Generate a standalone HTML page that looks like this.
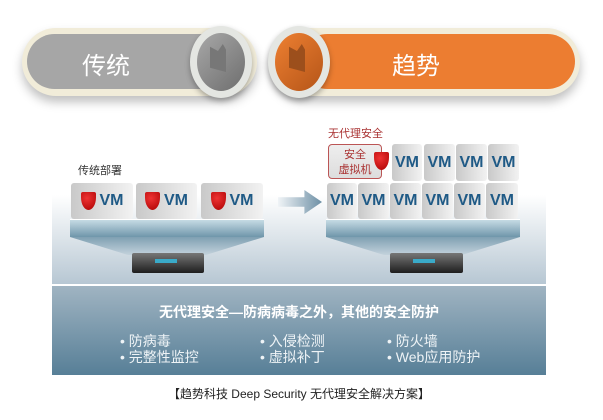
<!DOCTYPE html>
<html><head><meta charset="utf-8"><style>
body{margin:0;width:603px;height:420px;background:#fff;position:relative;overflow:hidden;font-family:"Liberation Sans","Noto Sans CJK SC",sans-serif}
.a{position:absolute}
.vm{position:absolute;background:linear-gradient(90deg,#c9c9c9,#f2f2f2);border-radius:3px;color:#1f5a86;font-weight:bold;font-size:16px;display:flex;align-items:center;justify-content:center}
.sh{display:inline-block;width:15px;height:18px;background:radial-gradient(circle at 40% 35%,#e33,#a00);border-radius:2px 2px 50% 50%/2px 2px 70% 70%;margin-right:4px}
.bar{position:absolute;height:17px;background:linear-gradient(#c6dbe4,#6f96aa);border-top:1px solid #fff}
.srv{position:absolute;height:20px;background:linear-gradient(#777,#1e1e1e);border-radius:2px}
.srv i{position:absolute;left:32%;top:6px;width:30%;height:4px;background:#3aaac8}
.b{position:absolute;color:#eef3f6;font-size:14px}
</style></head><body>
<div class="a" style="left:22px;top:28px;width:235px;height:68px;border-radius:34px;background:#f1ecd9;box-shadow:0 6px 10px rgba(0,0,0,.25)"></div>
<div class="a" style="left:27px;top:34px;width:220px;height:55px;border-radius:28px;background:#a6a6a6"></div>
<div class="a" style="left:82px;top:46px;color:#fff;font-size:24px">传统</div>
<div class="a" style="left:190px;top:26px;width:62px;height:72px;border-radius:50%;background:#e4e6e2;box-shadow:0 3px 6px rgba(0,0,0,.3)"></div>
<div class="a" style="left:197px;top:33px;width:48px;height:58px;border-radius:50%;background:linear-gradient(135deg,#a8a8a8,#6e6e6e)"></div>
<div class="a" style="left:210px;top:44px;width:16px;height:28px;background:#777;clip-path:polygon(0 10%,50% 25%,80% 0,100% 20%,100% 100%,0 85%)"></div>
<div class="a" style="left:270px;top:28px;width:310px;height:68px;border-radius:34px;background:#f1ecd9;box-shadow:0 6px 10px rgba(0,0,0,.25)"></div>
<div class="a" style="left:300px;top:34px;width:275px;height:55px;border-radius:28px;background:#ec7d31"></div>
<div class="a" style="left:392px;top:46px;color:#fff;font-size:24px">趋势</div>
<div class="a" style="left:268px;top:26px;width:62px;height:72px;border-radius:50%;background:#e4e6e2;box-shadow:0 3px 6px rgba(0,0,0,.3)"></div>
<div class="a" style="left:275px;top:33px;width:48px;height:58px;border-radius:50%;background:linear-gradient(135deg,#ee8032,#b55518)"></div>
<div class="a" style="left:289px;top:44px;width:16px;height:28px;background:#9c4f1c;clip-path:polygon(0 10%,50% 25%,80% 0,100% 20%,100% 100%,0 85%)"></div>
<div class="a" style="left:52px;top:195px;width:494px;height:89px;background:linear-gradient(#fff,#b7c7d3)"></div>
<div class="a" style="left:78px;top:162px;font-size:11px;color:#333">传统部署</div>
<div class="a" style="left:328px;top:125px;font-size:11px;color:#a33">无代理安全</div>
<div class="vm" style="left:71px;top:183px;width:62px;height:36px"><span class="sh"></span>VM</div>
<div class="vm" style="left:136px;top:183px;width:61px;height:36px"><span class="sh"></span>VM</div>
<div class="vm" style="left:201px;top:183px;width:62px;height:36px"><span class="sh"></span>VM</div>
<div class="bar" style="left:70px;top:219px;width:194px"></div>
<div class="a" style="left:70px;top:237px;width:194px;height:18px;background:linear-gradient(#7fa0b2,#c3d2dc);clip-path:polygon(0 0,100% 0,70% 100%,30% 100%)"></div>
<div class="srv" style="left:132px;top:253px;width:72px"><i></i></div>
<div class="a" style="left:278px;top:190px;width:44px;height:24px;background:linear-gradient(90deg,#f0f4f7,#6d8fa5);clip-path:polygon(0 30%,60% 30%,60% 0,100% 50%,60% 100%,60% 70%,0 70%)"></div>
<div class="a" style="left:328px;top:144px;width:54px;height:35px;border:1px solid #b55;border-radius:4px;background:linear-gradient(#eee,#ddd);color:#a33;font-size:11px;text-align:center;line-height:15px;padding-top:3px;box-sizing:border-box">安全<br>虚拟机</div>
<span class="sh a" style="left:374px;top:152px"></span>
<div class="vm" style="left:392px;top:144px;width:30px;height:37px">VM</div>
<div class="vm" style="left:424px;top:144px;width:31px;height:37px">VM</div>
<div class="vm" style="left:456px;top:144px;width:31px;height:37px">VM</div>
<div class="vm" style="left:488px;top:144px;width:31px;height:37px">VM</div>
<div class="vm" style="left:327px;top:183px;width:30px;height:36px">VM</div>
<div class="vm" style="left:358px;top:183px;width:31px;height:36px">VM</div>
<div class="vm" style="left:390px;top:183px;width:31px;height:36px">VM</div>
<div class="vm" style="left:422px;top:183px;width:31px;height:36px">VM</div>
<div class="vm" style="left:454px;top:183px;width:31px;height:36px">VM</div>
<div class="vm" style="left:486px;top:183px;width:32px;height:36px">VM</div>
<div class="bar" style="left:326px;top:219px;width:194px"></div>
<div class="a" style="left:326px;top:237px;width:194px;height:18px;background:linear-gradient(#7fa0b2,#c3d2dc);clip-path:polygon(0 0,100% 0,70% 100%,30% 100%)"></div>
<div class="srv" style="left:390px;top:253px;width:73px"><i></i></div>
<div class="a" style="left:52px;top:286px;width:494px;height:89px;background:linear-gradient(#a0b4c2,#577f97)"></div>
<div class="a" style="left:52px;top:302px;width:494px;text-align:center;color:#fff;font-weight:bold;font-size:14px">无代理安全—防病病毒之外，其他的安全防护</div>
<div class="b" style="left:120px;top:331px">• 防病毒</div>
<div class="b" style="left:120px;top:347px">• 完整性监控</div>
<div class="b" style="left:260px;top:331px">• 入侵检测</div>
<div class="b" style="left:260px;top:347px">• 虚拟补丁</div>
<div class="b" style="left:387px;top:331px">• 防火墙</div>
<div class="b" style="left:387px;top:347px">• Web应用防护</div>
<div class="a" style="left:52px;top:385px;width:494px;text-align:center;font-size:12px;color:#222">【趋势科技 Deep Security 无代理安全解决方案】</div>
</body></html>
